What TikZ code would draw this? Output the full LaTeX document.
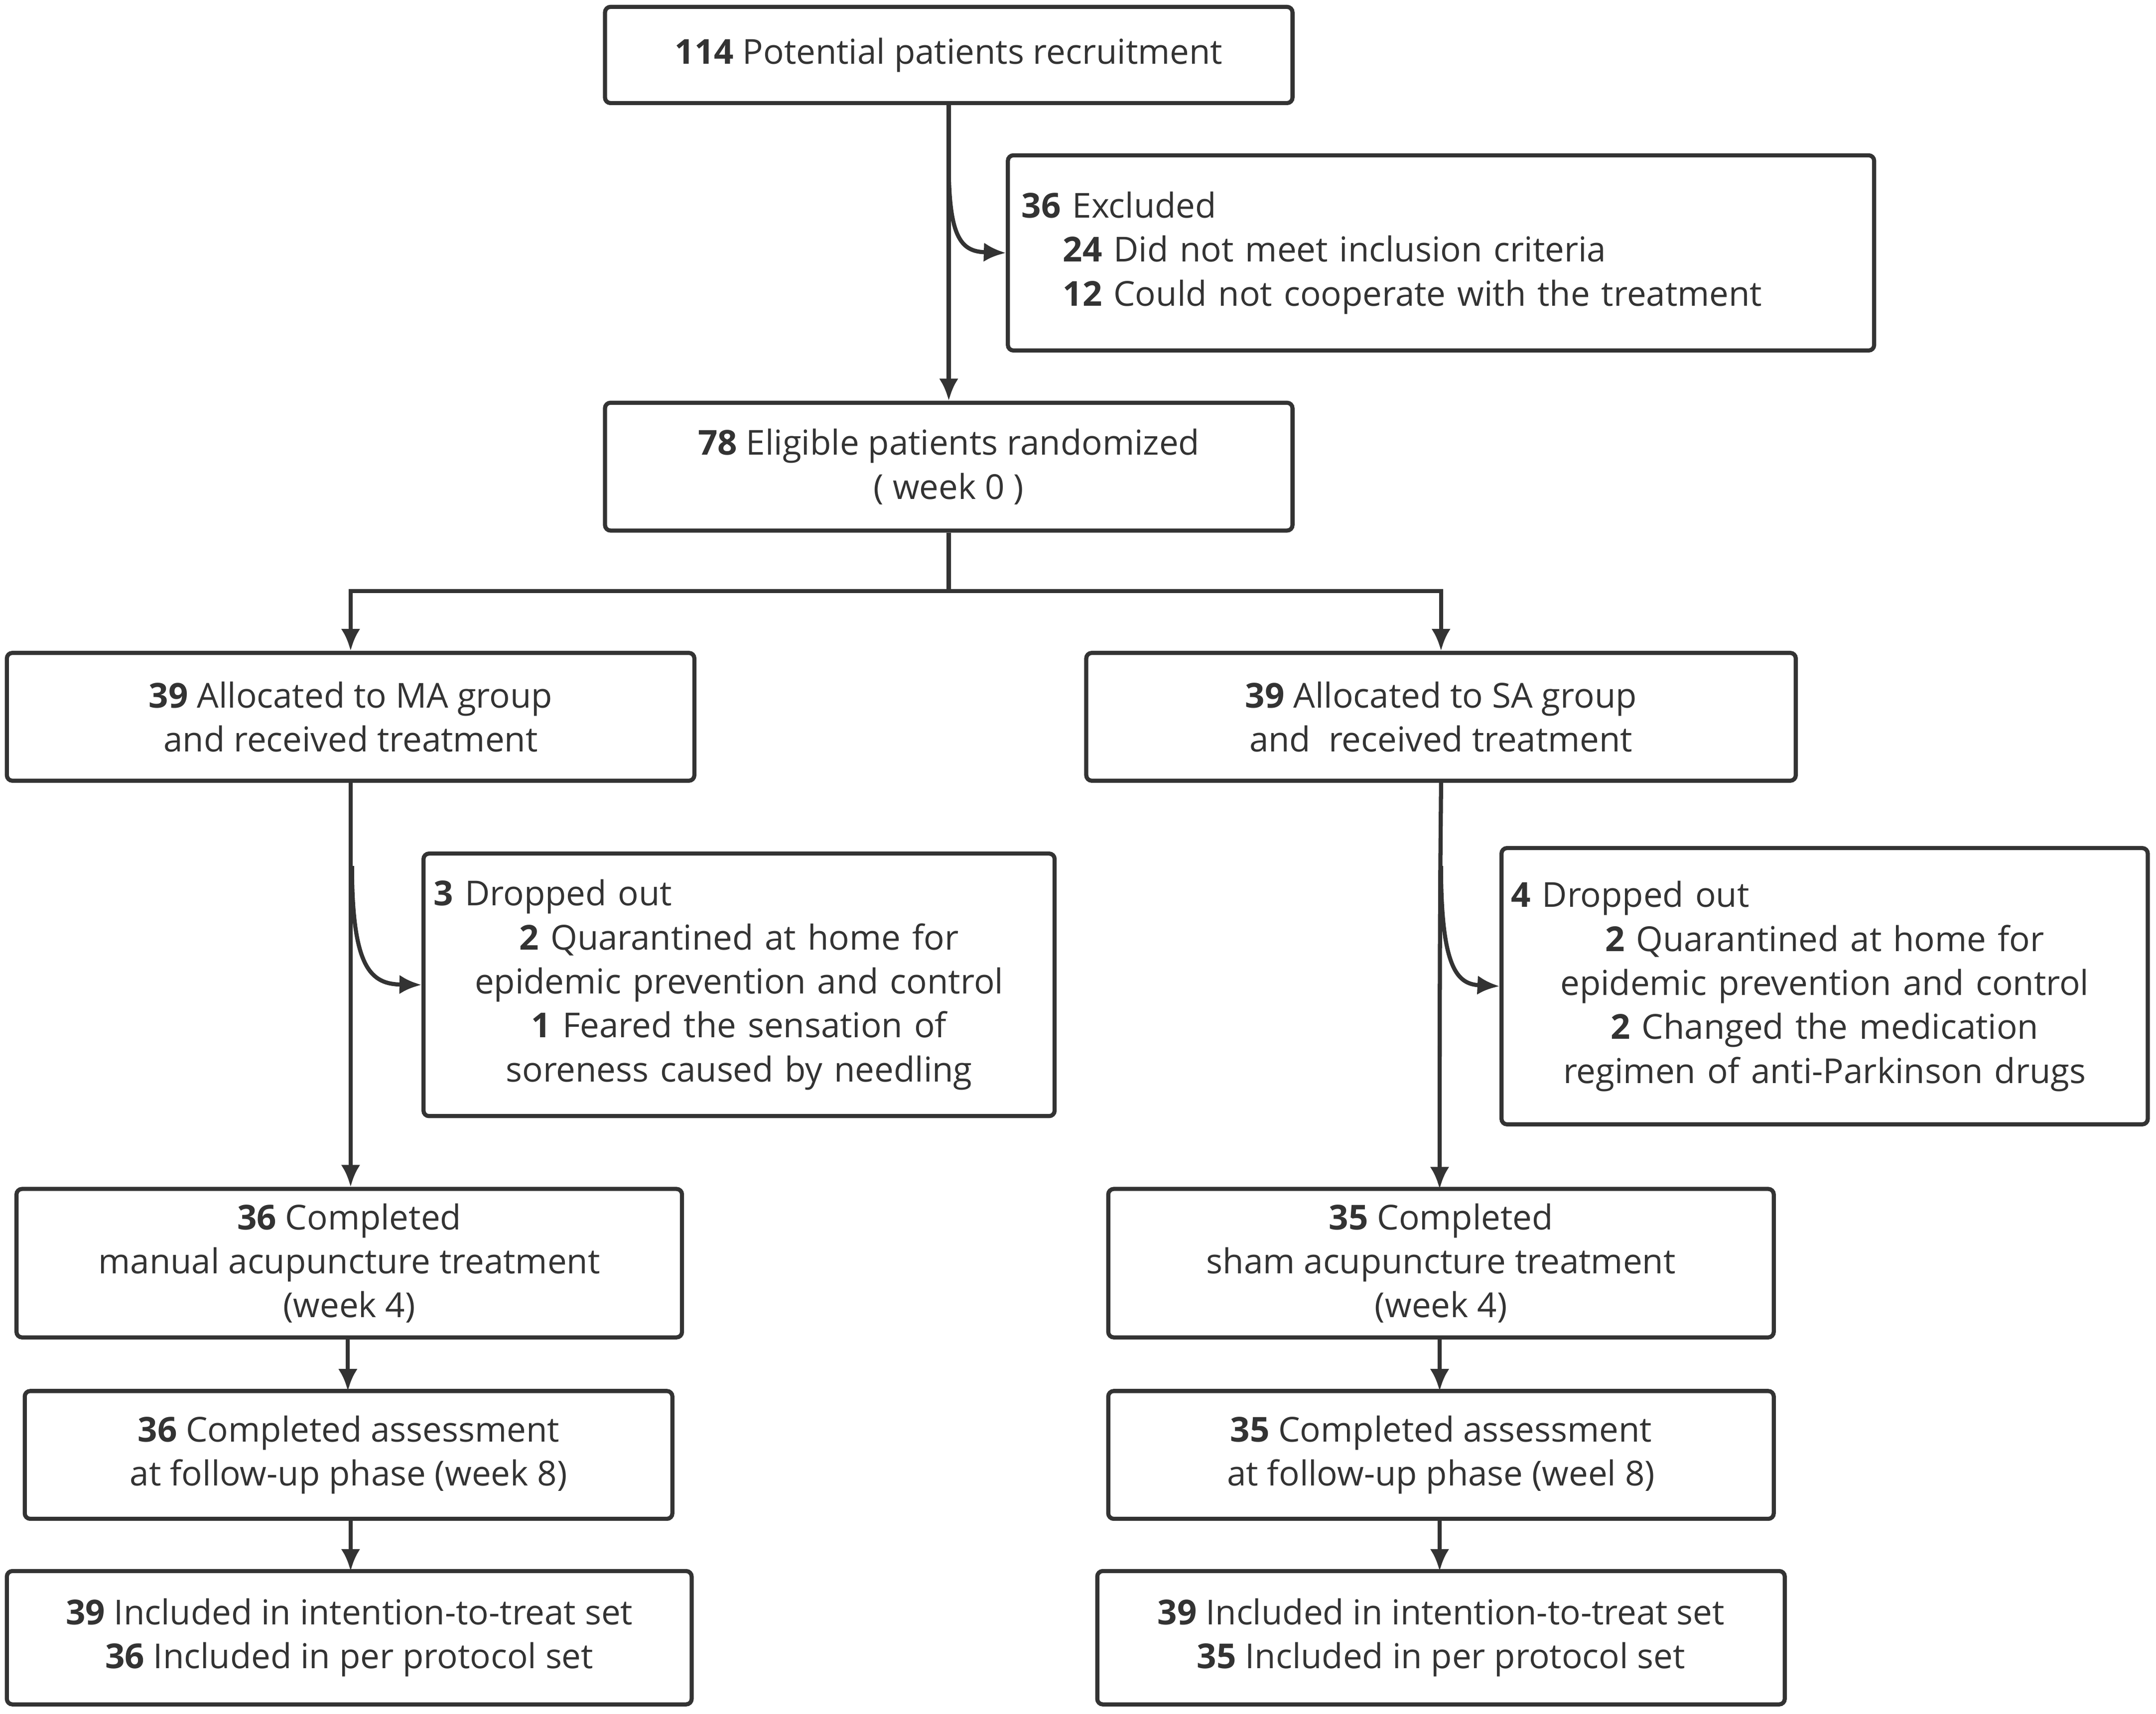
\documentclass[tikz,border=0pt]{standalone}
\usepackage{fontspec}
\setmainfont{Open Sans}
\usetikzlibrary{arrows.meta}
\definecolor{ink}{HTML}{333333}
\begin{document}
\begin{tikzpicture}[x=0.5pt,y=-0.5pt,
  box/.style={draw=ink,line width=1.5pt,rounded corners=2pt,inner sep=0pt,font=\fontsize{12.5}{16}\selectfont,text=ink,align=center},
  ar/.style={draw=ink,line width=1.5pt,-{Latex[length=8pt,width=7pt]}},
  ln/.style={draw=ink,line width=1.5pt}]
\useasboundingbox (0,0) rectangle (1568,1247);
\def\bx#1#2#3#4#5#6{\node[box,minimum width={(#4-#2)*0.5pt},minimum height={(#5-#3)*0.5pt}] (#1) at ({(#2+#4)/2},{(#3+#5)/2}) {#6};}
\bx{A}{440}{5}{940}{75}{\textbf{114} Potential patients recruitment}
\node[box,minimum width=315pt,minimum height=71pt,align=left,text width=305pt] (E) at (1048,184) {\textbf{36} Excluded\\\hspace*{1.2em}\textbf{24} Did not meet inclusion criteria\\\hspace*{1.2em}\textbf{12} Could not cooperate with the treatment};
\bx{B}{440}{293}{940}{386}{\textbf{78} Eligible patients randomized\\( week 0 )}
\bx{M}{5}{475}{505}{568}{\textbf{39} Allocated to MA group\\and received treatment}
\bx{S}{790}{475}{1306}{568}{\textbf{39} Allocated to SA group\\and\ \ received treatment}
\node[box,minimum width=229.5pt,minimum height=95.5pt,text width=222pt] (D1) at (537.5,716.5) {\makebox[\linewidth][l]{\textbf{3} Dropped out}\\\textbf{2} Quarantined at home for\\epidemic prevention and control\\\textbf{1} Feared the sensation of\\soreness caused by needling};
\node[box,minimum width=235pt,minimum height=100.5pt,text width=228pt] (D2) at (1327,717.5) {\makebox[\linewidth][l]{\textbf{4} Dropped out}\\\textbf{2} Quarantined at home for\\epidemic prevention and control\\\textbf{2} Changed the medication\\regimen of anti-Parkinson drugs};
\bx{C1}{12}{865}{496}{973}{\textbf{36} Completed\\manual acupuncture treatment\\(week 4)}
\bx{C2}{806}{865}{1290}{973}{\textbf{35} Completed\\sham acupuncture treatment\\(week 4)}
\bx{F1}{18}{1012}{489}{1105}{\textbf{36} Completed assessment\\at follow-up phase (week 8)}
\bx{F2}{806}{1012}{1290}{1105}{\textbf{35} Completed assessment\\at follow-up phase (weel 8)}
\bx{I1}{5}{1143}{503}{1240}{\textbf{39} Included in intention-to-treat set\\\textbf{36} Included in per protocol set}
\bx{I2}{798}{1143}{1298}{1240}{\textbf{39} Included in intention-to-treat set\\\textbf{35} Included in per protocol set}
\draw[ar] (A.south) -- (B.north);
\draw[ar] (690,120) .. controls (690,175) and (700,183) .. (E.west);
\draw[ln] (B.south) -- (690,430) coordinate (j);
\draw[ar] (j) -| (M.north);
\draw[ar] (j) -| (S.north);
\draw[ar] (M.south) -- (C1.north-|M.south);
\draw[ar] (256,630) .. controls (256,705) and (270,716) .. (D1.west);
\draw[ar] (S.south) .. controls (1048,600) and (1047,620) .. (1047,865);
\draw[ar] (1048,630) .. controls (1048,705) and (1060,716) .. (D2.west);
\draw[ar] (253,973) -- (253,1012);
\draw[ar] (255,1105) -- (255,1143);
\draw[ar] (1047,973) -- (1047,1012);
\draw[ar] (1047,1105) -- (1047,1143);
\end{tikzpicture}
\end{document}
